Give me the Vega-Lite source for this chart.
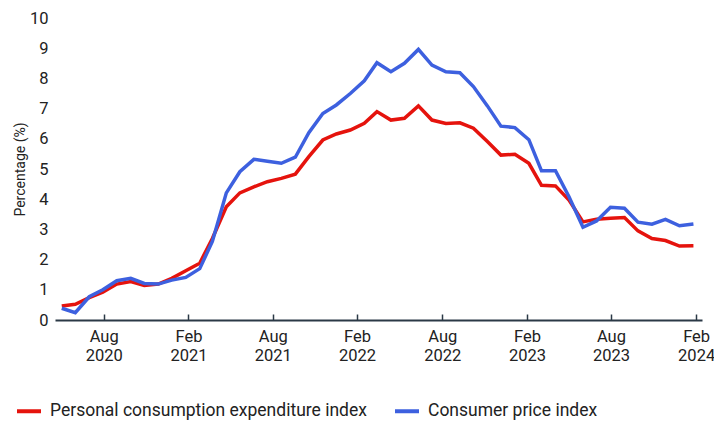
{
  "$schema": "https://vega.github.io/schema/vega-lite/v6.json",
  "width": 647,
  "height": 302,
  "autosize": "none",
  "padding": {"left": 55, "top": 18, "right": 12, "bottom": 102},
  "background": "white",
  "config": {
    "view": {"stroke": null},
    "font": "Roboto",
    "axis": {"grid": false}
  },
  "data": {
    "values": [
      {"date": "2020-04-01", "Personal consumption expenditure index": 0.46, "Consumer price index": 0.39},
      {"date": "2020-05-01", "Personal consumption expenditure index": 0.52, "Consumer price index": 0.24},
      {"date": "2020-06-01", "Personal consumption expenditure index": 0.74, "Consumer price index": 0.77},
      {"date": "2020-07-01", "Personal consumption expenditure index": 0.92, "Consumer price index": 1.00},
      {"date": "2020-08-01", "Personal consumption expenditure index": 1.19, "Consumer price index": 1.30},
      {"date": "2020-09-01", "Personal consumption expenditure index": 1.27, "Consumer price index": 1.38},
      {"date": "2020-10-01", "Personal consumption expenditure index": 1.14, "Consumer price index": 1.21},
      {"date": "2020-11-01", "Personal consumption expenditure index": 1.19, "Consumer price index": 1.19},
      {"date": "2020-12-01", "Personal consumption expenditure index": 1.38, "Consumer price index": 1.32},
      {"date": "2021-01-01", "Personal consumption expenditure index": 1.63, "Consumer price index": 1.41},
      {"date": "2021-02-01", "Personal consumption expenditure index": 1.88, "Consumer price index": 1.70},
      {"date": "2021-03-01", "Personal consumption expenditure index": 2.70, "Consumer price index": 2.60},
      {"date": "2021-04-01", "Personal consumption expenditure index": 3.75, "Consumer price index": 4.21},
      {"date": "2021-05-01", "Personal consumption expenditure index": 4.21, "Consumer price index": 4.91},
      {"date": "2021-06-01", "Personal consumption expenditure index": 4.41, "Consumer price index": 5.32},
      {"date": "2021-07-01", "Personal consumption expenditure index": 4.58, "Consumer price index": 5.26},
      {"date": "2021-08-01", "Personal consumption expenditure index": 4.69, "Consumer price index": 5.19},
      {"date": "2021-09-01", "Personal consumption expenditure index": 4.83, "Consumer price index": 5.39},
      {"date": "2021-10-01", "Personal consumption expenditure index": 5.41, "Consumer price index": 6.20},
      {"date": "2021-11-01", "Personal consumption expenditure index": 5.96, "Consumer price index": 6.84},
      {"date": "2021-12-01", "Personal consumption expenditure index": 6.16, "Consumer price index": 7.12},
      {"date": "2022-01-01", "Personal consumption expenditure index": 6.29, "Consumer price index": 7.50},
      {"date": "2022-02-01", "Personal consumption expenditure index": 6.51, "Consumer price index": 7.92},
      {"date": "2022-03-01", "Personal consumption expenditure index": 6.90, "Consumer price index": 8.52},
      {"date": "2022-04-01", "Personal consumption expenditure index": 6.62, "Consumer price index": 8.22},
      {"date": "2022-05-01", "Personal consumption expenditure index": 6.68, "Consumer price index": 8.50},
      {"date": "2022-06-01", "Personal consumption expenditure index": 7.09, "Consumer price index": 8.96},
      {"date": "2022-07-01", "Personal consumption expenditure index": 6.62, "Consumer price index": 8.44},
      {"date": "2022-08-01", "Personal consumption expenditure index": 6.51, "Consumer price index": 8.22},
      {"date": "2022-09-01", "Personal consumption expenditure index": 6.53, "Consumer price index": 8.19},
      {"date": "2022-10-01", "Personal consumption expenditure index": 6.35, "Consumer price index": 7.73},
      {"date": "2022-11-01", "Personal consumption expenditure index": 5.91, "Consumer price index": 7.09},
      {"date": "2022-12-01", "Personal consumption expenditure index": 5.46, "Consumer price index": 6.42},
      {"date": "2023-01-01", "Personal consumption expenditure index": 5.49, "Consumer price index": 6.37},
      {"date": "2023-02-01", "Personal consumption expenditure index": 5.19, "Consumer price index": 5.97},
      {"date": "2023-03-01", "Personal consumption expenditure index": 4.46, "Consumer price index": 4.94},
      {"date": "2023-04-01", "Personal consumption expenditure index": 4.44, "Consumer price index": 4.94},
      {"date": "2023-05-01", "Personal consumption expenditure index": 3.97, "Consumer price index": 4.08},
      {"date": "2023-06-01", "Personal consumption expenditure index": 3.25, "Consumer price index": 3.07},
      {"date": "2023-07-01", "Personal consumption expenditure index": 3.34, "Consumer price index": 3.28},
      {"date": "2023-08-01", "Personal consumption expenditure index": 3.37, "Consumer price index": 3.73},
      {"date": "2023-09-01", "Personal consumption expenditure index": 3.39, "Consumer price index": 3.70},
      {"date": "2023-10-01", "Personal consumption expenditure index": 2.95, "Consumer price index": 3.24},
      {"date": "2023-11-01", "Personal consumption expenditure index": 2.70, "Consumer price index": 3.17},
      {"date": "2023-12-01", "Personal consumption expenditure index": 2.63, "Consumer price index": 3.33},
      {"date": "2024-01-01", "Personal consumption expenditure index": 2.45, "Consumer price index": 3.12},
      {"date": "2024-02-01", "Personal consumption expenditure index": 2.46, "Consumer price index": 3.18}
    ]
  },
  "transform": [
    {"fold": ["Personal consumption expenditure index", "Consumer price index"], "as": ["series", "value"]}
  ],
  "mark": {"type": "line", "strokeWidth": 3.5, "strokeJoin": "miter", "strokeCap": "butt"},
  "encoding": {
    "x": {
      "field": "date",
      "type": "temporal",
      "scale": {
        "type": "utc",
        "domain": [
          {"year": 2020, "month": 3, "date": 17, "utc": true},
          {"year": 2024, "month": 2, "date": 20, "utc": true}
        ]
      },
      "axis": {
        "title": null,
        "values": [
          {"year": 2020, "month": 7, "date": 3, "utc": true},
          {"year": 2021, "month": 1, "date": 7, "utc": true},
          {"year": 2021, "month": 7, "date": 13, "utc": true},
          {"year": 2022, "month": 1, "date": 16, "utc": true},
          {"year": 2022, "month": 7, "date": 24, "utc": true},
          {"year": 2023, "month": 1, "date": 28, "utc": true},
          {"year": 2023, "month": 8, "date": 2, "utc": true},
          {"year": 2024, "month": 2, "date": 7, "utc": true}
        ],
        "labelExpr": "[utcmonth(datum.value) < 6 ? 'Feb' : 'Aug', '' + utcyear(datum.value)]",
        "domainColor": "#2b3946",
        "domainWidth": 2,
        "tickColor": "#2b3946",
        "tickWidth": 1.5,
        "tickSize": -6,
        "labelPadding": 14.5,
        "labelFontSize": 16.5,
        "labelLineHeight": 19,
        "labelColor": "#222222",
        "labelBaseline": "top",
        "labelFlush": false
      }
    },
    "y": {
      "field": "value",
      "type": "quantitative",
      "scale": {"domain": [0, 10], "nice": false, "zero": true},
      "axis": {
        "title": "Percentage (%)",
        "values": [0, 1, 2, 3, 4, 5, 6, 7, 8, 9, 10],
        "domain": false,
        "ticks": false,
        "labelPadding": 7,
        "labelFontSize": 16.5,
        "labelColor": "#222222",
        "titleFontSize": 14,
        "titleFontWeight": "normal",
        "titleColor": "#222222",
        "titlePadding": 2
      }
    },
    "color": {
      "field": "series",
      "type": "nominal",
      "scale": {
        "domain": ["Personal consumption expenditure index", "Consumer price index"],
        "range": ["#e5130d", "#3d60df"]
      },
      "sort": ["Personal consumption expenditure index", "Consumer price index"],
      "legend": {
        "title": null,
        "orient": "none",
        "direction": "horizontal",
        "legendX": -40,
        "legendY": 379,
        "symbolType": "stroke",
        "symbolSize": 576,
        "symbolStrokeWidth": 4,
        "labelFontSize": 17.5,
        "labelColor": "#222222",
        "labelOffset": 7,
        "columnPadding": 20,
        "labelLimit": 400
      }
    },
    "order": {"field": "series", "sort": "descending"}
  }
}
